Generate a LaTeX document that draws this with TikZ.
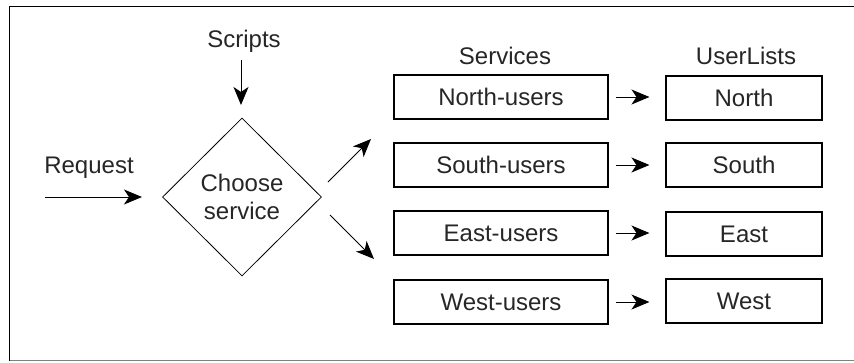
\documentclass[tikz,border=0pt]{standalone}
\usepackage{fontspec}
\setmainfont{Liberation Sans}
\usetikzlibrary{shapes.geometric,arrows.meta}
\definecolor{txt}{HTML}{262626}
\tikzset{
  lbl/.style={text=txt,font=\fontsize{24}{28}\selectfont,inner sep=0pt,align=center},
  box/.style={draw=black,line width=1.1pt,text=txt,font=\fontsize{24}{28}\selectfont,inner sep=0pt,minimum height=44pt},
  svc/.style={box,minimum width=214pt},
  ulst/.style={box,minimum width=156pt},
  arr/.style={line width=1pt,-{Stealth[length=18pt,width=15pt,inset=5pt]}},
}
\begin{document}
\begin{tikzpicture}[x=1pt,y=-1pt]
\useasboundingbox (0,0) rectangle (854,362);
% outer frame (right side off-page)
\draw[black,line width=1.3pt] (9.5,360.5) -- (9.5,6.5) -- (870,6.5);
\draw[gray,line width=1.3pt] (9.5,360.5) -- (870,360.5);
% diamond
\node[diamond,draw=black,line width=0.8pt,minimum width=159pt,minimum height=158pt,inner sep=0pt,lbl] (choose) at (242,197) {Choose\\service};
\node[lbl] (scripts) at (244,41) {Scripts};
\node[lbl] (request) at (89,168) {Request};
\coordinate (s0) at (241,60);
\coordinate (s1) at (241,105);
\coordinate (r0) at (45,197);
\coordinate (r1) at (142,197);
\coordinate (u0) at (328,182);
\coordinate (u1) at (371,139);
\coordinate (d0) at (330,215);
\coordinate (d1) at (374,259);
\draw[arr] (s0) -- (s1);
\draw[arr] (r0) -- (r1);
\draw[arr] (u0) -- (u1);
\draw[arr] (d0) -- (d1);
% headers
\node[lbl] (hs) at (505,56) {Services};
\node[lbl] (hu) at (746,56) {UserLists};
% services
\node[svc] (nu) at (501,97) {North-users};
\node[svc] (su) at (501,165) {South-users};
\node[svc] (eu) at (501,233) {East-users};
\node[svc] (wu) at (501,302) {West-users};
% userlists
\node[ulst] (n) at (744,98) {North};
\node[ulst] (s) at (744,165) {South};
\node[ulst] (e) at (744,234) {East};
\node[ulst] (w) at (744,301) {West};
\foreach \a/\b in {nu/n,su/s,eu/e,wu/w}{
  \draw[arr,shorten <=7pt,shorten >=16pt] (\a.east) -- (\a.east -| \b.west);
}
\end{tikzpicture}
\end{document}
